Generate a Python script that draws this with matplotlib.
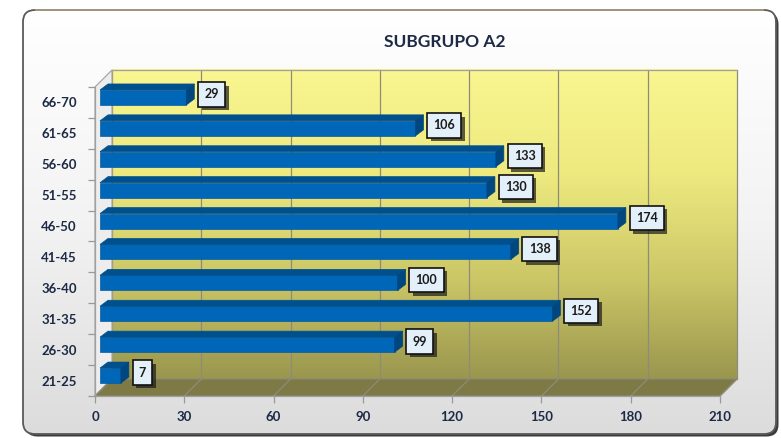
import matplotlib
matplotlib.use("Agg")
import matplotlib.pyplot as plt
import numpy as np
from matplotlib.patches import FancyBboxPatch, Polygon
from matplotlib.colors import LinearSegmentedColormap
import matplotlib.patheffects as pe

plt.rcParams['font.family'] = ['Lato', 'DejaVu Sans']

# ---- data ----
categories = ["21-25", "26-30", "31-35", "36-40", "41-45",
              "46-50", "51-55", "56-60", "61-65", "66-70"]
values = [7, 99, 152, 100, 138, 174, 130, 133, 106, 29]
xticks = [0, 30, 60, 90, 120, 150, 180, 210]
title = "SUBGRUPO A2"

W, H = 781, 438
fig = plt.figure(figsize=(W / 100, H / 100), dpi=100)

# ---- background frame (pixel coordinates) ----
ax_bg = fig.add_axes([0, 0, 1, 1], zorder=0)
grad = np.linspace(0, 1, 256).reshape(-1, 1)
cm_bg = LinearSegmentedColormap.from_list('bg', ['#FFFFFF', '#F3F3F3', '#DCDCDC'])
im = ax_bg.imshow(grad, cmap=cm_bg, extent=(23, 776, 434, 10), origin='upper',
                  aspect='auto', zorder=1)
ax_bg.set_xlim(0, W)
ax_bg.set_ylim(H, 0)
ax_bg.axis('off')
shadow = FancyBboxPatch((25.5, 12.5), 753, 424, boxstyle='round,pad=0,rounding_size=12',
                        fc='#3c3c3c', ec='none', zorder=0.5)
ax_bg.add_patch(shadow)
frame = FancyBboxPatch((23, 10), 753, 424, boxstyle='round,pad=0,rounding_size=12',
                       fc='none', ec='#5a5a5a', lw=1.3, zorder=2)
ax_bg.add_patch(frame)
im.set_clip_path(frame)
ax_bg.plot([36, 763], [10.3, 10.3], color='#A89A82', lw=1.3, zorder=3)

fig.text(445 / W, 1 - 42 / H, title, ha='center', va='center', fontsize=12.5,
         fontweight='bold', color='#1c2a45')

# ---- main axes (front plane) ----
x0, x1, yb, yt = 95, 720, 396, 87
ax = fig.add_axes([x0 / W, 1 - yb / H, (x1 - x0) / W, (yb - yt) / H], zorder=1)
ax.patch.set_visible(False)
for s in ax.spines.values():
    s.set_visible(False)

sx = (x1 - x0) / 210.0   # px per unit x
sy = (yb - yt) / 10.0    # px per unit y


def off(x, y, dxp, dyp):
    return (x + dxp / sx, y + dyp / sy)


DX, DY = 17, 17
# back wall gradient
cm_wall = LinearSegmentedColormap.from_list('wall', ['#9A964E', '#CDC867', '#EEEA80', '#FAF690'])
bx0, by0 = off(0, -0.5, DX, DY)
bx1, by1 = off(210, 9.5, DX, DY)
wall = ax.imshow(grad, cmap=cm_wall, extent=(bx0, bx1, by0, by1), origin='lower',
                 aspect='auto', zorder=0, clip_on=False)
ax.set_xlim(0, 210)
ax.set_ylim(-0.5, 9.5)

gc = '#8E8C78'
# wall gridlines & border
for xv in xticks:
    p0 = off(xv, -0.5, DX, DY)
    p1 = off(xv, 9.5, DX, DY)
    ax.plot([p0[0], p1[0]], [p0[1], p1[1]], color=gc, lw=0.9, zorder=1, clip_on=False)
ax.plot([bx0, bx1], [by1, by1], color='#A0A0A0', lw=0.9, zorder=1, clip_on=False)

# left side wall
lw_poly = Polygon([(0, -0.5), (0, 9.5), off(0, 9.5, DX, DY), off(0, -0.5, DX, DY)],
                  closed=True, fc='#EDEDED', ec='#A8A8A8', lw=0.9, zorder=1, clip_on=False)
ax.add_patch(lw_poly)

# floor
floor = Polygon([(0, -0.5), (210, -0.5), off(210, -0.5, DX, DY), off(0, -0.5, DX, DY)],
                closed=True, fc='#7D7A45', ec='#8A8A7A', lw=0.8, zorder=1, clip_on=False)
ax.add_patch(floor)
for xv in xticks:
    p1 = off(xv, -0.5, DX, DY)
    ax.plot([xv, p1[0]], [-0.5, p1[1]], color=gc, lw=0.9, zorder=1.5, clip_on=False)

# bars
BX, BY = 5, 5
DBX, DBY = 8, 6
h = 0.485
for i, v in enumerate(values):
    yl, yh = i - h / 2, i + h / 2
    front = Polygon([off(0, yl, BX, BY), off(v, yl, BX, BY), off(v, yh, BX, BY), off(0, yh, BX, BY)],
                    closed=True, fc='#0067B8', ec='#0A5A9A', lw=0.5, zorder=3, clip_on=False)
    top = Polygon([off(0, yh, BX, BY), off(v, yh, BX, BY),
                   off(v, yh, BX + DBX, BY + DBY), off(0, yh, BX + DBX, BY + DBY)],
                  closed=True, fc='#00508E', ec='#00508E', lw=0.5, zorder=3, clip_on=False)
    side = Polygon([off(v, yl, BX, BY), off(v, yh, BX, BY),
                    off(v, yh, BX + DBX, BY + DBY), off(v, yl, BX + DBX, BY + DBY)],
                   closed=True, fc='#00467F', ec='#00467F', lw=0.5, zorder=3, clip_on=False)
    for p in (front, top, side):
        ax.add_patch(p)
    t = ax.annotate(str(v), xy=(v, i), xycoords='data', xytext=(23, 8), textcoords='offset pixels',
                    ha='left', va='center', fontsize=9, fontweight='bold', color='#1a1a1a',
                    bbox=dict(boxstyle='square,pad=0.5', fc='#E4F0F9', ec='#111111', lw=1.2),
                    zorder=5, annotation_clip=False)
    t.get_bbox_patch().set_path_effects([
        pe.SimplePatchShadow(offset=(2.5, -2.5), shadow_rgbFace='#1a1a1a', alpha=0.7),
        pe.Normal()])

# axes ticks
ax.set_xticks(xticks)
ax.set_xticklabels([str(t) for t in xticks], fontweight='bold')
ax.tick_params(axis='x', direction='out', length=5, width=0.9, color='#999999', pad=6,
               labelsize=9.5, labelcolor='#1c2a45')
ax.set_yticks(range(len(categories)))
ax.set_yticklabels(categories, fontweight='bold')
ax.set_yticks(np.arange(-0.5, 10, 1), minor=True)
ax.tick_params(axis='y', which='major', length=0, pad=13, labelsize=9.5, labelcolor='#1c2a45')
ax.tick_params(axis='y', which='minor', direction='out', length=5, width=0.9, color='#999999')
ax.plot([0, 0], [-0.5, 9.5], color='#A0A0A0', lw=0.9, zorder=2, clip_on=False)
ax.plot([0, 210], [-0.5, -0.5], color='#A0A0A0', lw=0.9, zorder=2, clip_on=False)

fig.savefig('out.png', dpi=100)
